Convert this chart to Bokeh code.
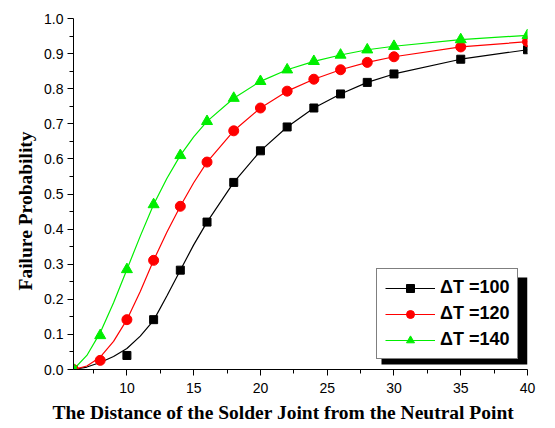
from bokeh.plotting import figure
from bokeh.models import Legend, LegendItem, FixedTicker, Range1d, PrintfTickFormatter, BoxAnnotation, Title
from bokeh.embed import file_html
from bokeh.resources import INLINE

# ---- data ----
x_100 = [6, 10, 12, 14, 16, 18, 20, 22, 24, 26, 28, 30, 35, 40]
y_100 = [0.0, 0.04, 0.142, 0.283, 0.42, 0.533, 0.623, 0.691, 0.745, 0.785, 0.818, 0.842, 0.884, 0.911]

x_120 = [6, 8, 10, 12, 14, 16, 18, 20, 22, 24, 26, 28, 30, 35, 40]
y_120 = [0.0, 0.026, 0.142, 0.311, 0.465, 0.591, 0.680, 0.745, 0.793, 0.827, 0.854, 0.875, 0.891, 0.919, 0.934]

x_140 = [6, 8, 10, 12, 14, 16, 18, 20, 22, 24, 26, 28, 30, 35, 40]
y_140 = [0.0, 0.097, 0.285, 0.470, 0.610, 0.707, 0.773, 0.821, 0.854, 0.878, 0.896, 0.911, 0.921, 0.940, 0.952]

# fitted curves
fit_x_100 = [6, 7, 8, 9, 10, 11, 12, 13, 14, 15, 16, 18, 20, 22, 24, 26, 28, 30, 35, 40]
fit_y_100 = [0.0, 0.007, 0.02, 0.037, 0.06, 0.095, 0.14, 0.21, 0.283, 0.355, 0.42, 0.533, 0.623, 0.691, 0.745, 0.785, 0.818, 0.842, 0.884, 0.911]
fit_x_120 = [6, 7, 8, 9, 10, 11, 12, 13, 14, 15, 16, 18, 20, 22, 24, 26, 28, 30, 35, 40]
fit_y_120 = [0.0, 0.01, 0.035, 0.08, 0.142, 0.222, 0.311, 0.392, 0.465, 0.532, 0.591, 0.680, 0.745, 0.793, 0.827, 0.854, 0.875, 0.891, 0.919, 0.934]
fit_x_140 = [6, 7, 8, 9, 10, 11, 12, 13, 14, 15, 16, 18, 20, 22, 24, 26, 28, 30, 35, 40]
fit_y_140 = [0.0, 0.04, 0.105, 0.19, 0.285, 0.38, 0.470, 0.545, 0.610, 0.663, 0.707, 0.773, 0.821, 0.854, 0.878, 0.896, 0.911, 0.921, 0.940, 0.952]

labels = ["\u0394T =100", "\u0394T =120", "\u0394T =140"]
x_title = "The Distance of the Solder Joint from the Neutral Point"
y_title = "Failure Probability"
x_ticks = [10, 15, 20, 25, 30, 35, 40]
x_minor = [7.5, 12.5, 17.5, 22.5, 27.5, 32.5, 37.5]
y_ticks = [0.0, 0.1, 0.2, 0.3, 0.4, 0.5, 0.6, 0.7, 0.8, 0.9, 1.0]
y_minor = [0.05, 0.15, 0.25, 0.35, 0.45, 0.55, 0.65, 0.75, 0.85, 0.95]

p = figure(width=555, height=428, output_backend="svg", toolbar_location=None,
           x_range=Range1d(6, 40), y_range=Range1d(0, 1.0),
           min_border_left=73, min_border_right=28, min_border_top=18, min_border_bottom=59)
p.outline_line_color = None
p.grid.visible = False
p.background_fill_color = "white"

for ax in (p.xaxis[0], p.yaxis[0]):
    ax.axis_line_color = "black"
    ax.major_tick_line_color = "black"
    ax.minor_tick_line_color = "black"
    ax.major_tick_out = 6
    ax.major_tick_in = 0
    ax.minor_tick_out = 4
    ax.minor_tick_in = 0
    ax.major_label_text_font = "Liberation Sans"
    ax.major_label_text_font_size = "14px"
    ax.major_label_text_color = "black"

p.xaxis.ticker = FixedTicker(ticks=x_ticks, minor_ticks=x_minor)
p.yaxis.ticker = FixedTicker(ticks=y_ticks, minor_ticks=y_minor)
p.yaxis.formatter = PrintfTickFormatter(format="%.1f")
p.xaxis.major_label_standoff = 7
p.yaxis.major_label_standoff = 4

# axis titles placed like the reference (slightly off-centre)
title_style = dict(text_font="Liberation Serif", text_font_style="bold",
                   text_font_size="19.5px", text_color="black")
p.add_layout(Title(text=x_title, align="left", offset=-21, standoff=9, **title_style), "below")
p.add_layout(Title(text=y_title, align="left", offset=79, standoff=12, **title_style), "left")

colors = ["black", "red", "#00ee00"]
markers = ["square", "circle", "triangle"]
sizes = [8, 10, 11]

items = []
series = [(fit_x_100, fit_y_100, x_100, y_100), (fit_x_120, fit_y_120, x_120, y_120),
          (fit_x_140, fit_y_140, x_140, y_140)]
for (fx, fy, xs, ys), c, mk, sz, lab in zip(series, colors, markers, sizes, labels):
    lr = p.line(fx, fy, line_color=c, line_width=1.2)
    sr = p.scatter(xs, ys, marker=mk, size=sz, fill_color=c, line_color=c)
    items.append(LegendItem(label=lab, renderers=[lr, sr]))

# drop shadow behind the legend box (canvas pixels)
shadow = BoxAnnotation(left=381, right=527, top=277, bottom=364,
                       left_units="canvas", right_units="canvas",
                       top_units="canvas", bottom_units="canvas",
                       fill_color="black", fill_alpha=1.0, line_color=None)
p.add_layout(shadow)

legend = Legend(items=items, location=(303, 10))
legend.label_text_font = "Liberation Sans"
legend.label_text_font_style = "bold"
legend.label_text_font_size = "18px"
legend.label_text_color = "black"
legend.glyph_width = 50
legend.glyph_height = 20
legend.label_height = 20
legend.label_standoff = 5
legend.spacing = 5
legend.padding = 8
legend.margin = 0
legend.border_line_color = "black"
legend.border_line_width = 1
legend.background_fill_alpha = 1.0
legend.background_fill_color = "white"
p.add_layout(legend, "center")

open("out.html", "w").write(file_html(p, INLINE))
